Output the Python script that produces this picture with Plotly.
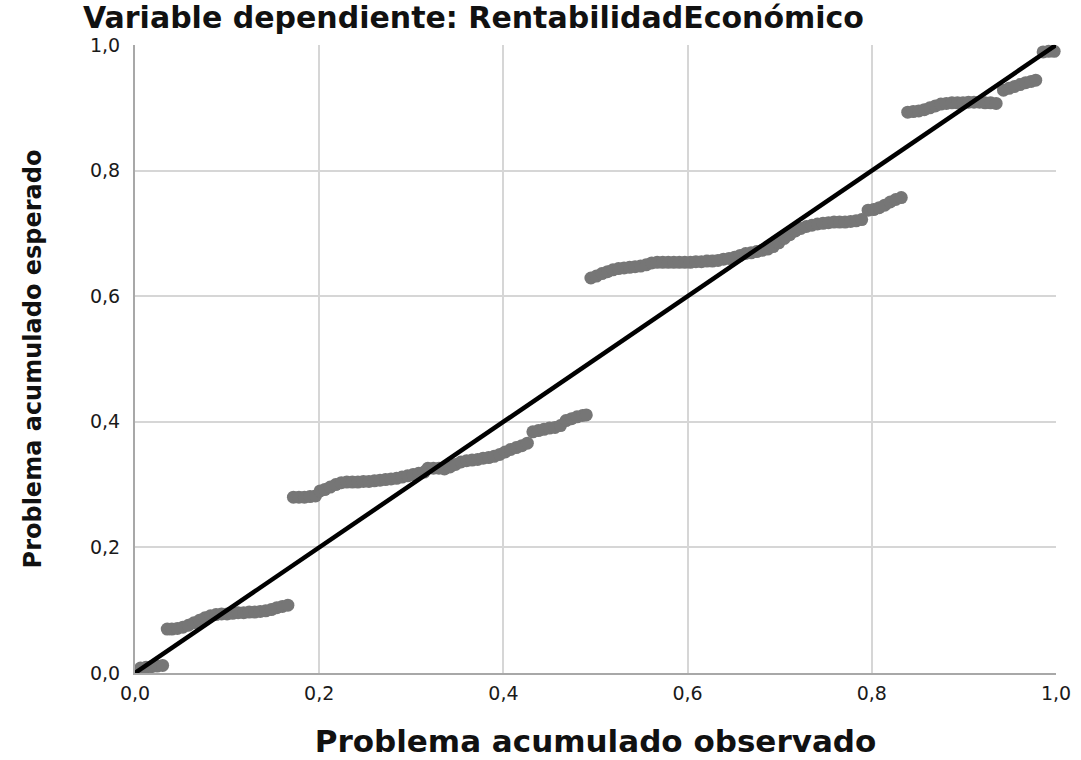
import plotly.graph_objects as go

# Observed vs expected cumulative probabilities (P-P plot of regression residuals),
# listed cluster by cluster
prob_observed = (
    [0.006, 0.012, 0.018, 0.024, 0.030]
    + [0.035, 0.040, 0.046, 0.052, 0.058, 0.064, 0.070, 0.076, 0.082, 0.088, 0.094, 0.100,
       0.106, 0.112, 0.118, 0.124, 0.130, 0.136, 0.142, 0.148, 0.154, 0.160, 0.166]
    + [0.172, 0.178, 0.184, 0.190, 0.196, 0.201, 0.206, 0.212, 0.218, 0.224, 0.230, 0.236,
       0.242, 0.248, 0.254, 0.260, 0.266, 0.272, 0.278, 0.284, 0.290, 0.296, 0.302, 0.308,
       0.314, 0.318, 0.324, 0.330, 0.336, 0.342, 0.348, 0.354, 0.360, 0.366, 0.372, 0.378,
       0.384, 0.390, 0.396, 0.402, 0.408, 0.414, 0.420, 0.426]
    + [0.432, 0.438, 0.444, 0.450, 0.456, 0.462, 0.468, 0.474, 0.480, 0.486, 0.490]
    + [0.495, 0.501, 0.507, 0.513, 0.519, 0.525, 0.531, 0.537, 0.543, 0.549, 0.555, 0.561,
       0.567, 0.573, 0.579, 0.585, 0.591, 0.597, 0.603, 0.609, 0.615, 0.621, 0.627, 0.633,
       0.639, 0.645, 0.651, 0.657, 0.663, 0.669, 0.675, 0.681, 0.687, 0.693, 0.699, 0.705,
       0.711, 0.717, 0.723, 0.729, 0.735, 0.741, 0.747, 0.753, 0.759, 0.765, 0.771, 0.777,
       0.783, 0.789]
    + [0.796, 0.802, 0.808, 0.814, 0.820, 0.826, 0.832]
    + [0.839, 0.845, 0.851, 0.857, 0.863, 0.869, 0.875, 0.881, 0.887, 0.893, 0.899, 0.905,
       0.911, 0.917, 0.923, 0.929, 0.935]
    + [0.943, 0.949, 0.955, 0.961, 0.967, 0.973, 0.978]
    + [0.986, 0.992, 0.998]
)
prob_expected = (
    [0.008, 0.009, 0.010, 0.011, 0.012]
    + [0.070, 0.070, 0.071, 0.073, 0.076, 0.080, 0.084, 0.088, 0.091, 0.093, 0.094, 0.094,
       0.095, 0.096, 0.096, 0.097, 0.097, 0.098, 0.099, 0.101, 0.104, 0.106, 0.108]
    + [0.280, 0.280, 0.280, 0.281, 0.282, 0.290, 0.292, 0.296, 0.300, 0.303, 0.304, 0.304,
       0.304, 0.305, 0.305, 0.306, 0.307, 0.308, 0.309, 0.310, 0.312, 0.314, 0.316, 0.318,
       0.320, 0.326, 0.326, 0.326, 0.325, 0.328, 0.332, 0.336, 0.338, 0.339, 0.340, 0.342,
       0.343, 0.345, 0.348, 0.352, 0.356, 0.359, 0.362, 0.366]
    + [0.384, 0.386, 0.388, 0.390, 0.391, 0.394, 0.402, 0.405, 0.408, 0.410, 0.411]
    + [0.629, 0.632, 0.636, 0.639, 0.642, 0.644, 0.645, 0.646, 0.647, 0.648, 0.650, 0.653,
       0.654, 0.654, 0.654, 0.654, 0.654, 0.654, 0.654, 0.655, 0.655, 0.656, 0.656, 0.657,
       0.659, 0.660, 0.662, 0.665, 0.668, 0.669, 0.671, 0.673, 0.675, 0.679, 0.685, 0.692,
       0.698, 0.704, 0.708, 0.711, 0.713, 0.715, 0.716, 0.717, 0.718, 0.718, 0.718, 0.719,
       0.720, 0.722]
    + [0.737, 0.738, 0.741, 0.745, 0.750, 0.754, 0.757]
    + [0.893, 0.894, 0.895, 0.897, 0.900, 0.903, 0.906, 0.907, 0.908, 0.908, 0.908, 0.909,
       0.909, 0.909, 0.908, 0.908, 0.907]
    + [0.928, 0.931, 0.934, 0.937, 0.940, 0.942, 0.944]
    + [0.989, 0.990, 0.990]
)

# Reference diagonal
diag_x = [0.0, 1.0]
diag_y = [0.0, 1.0]

tick_vals = [0.0, 0.2, 0.4, 0.6, 0.8, 1.0]
tick_text = ["0,0", "0,2", "0,4", "0,6", "0,8", "1,0"]

fig = go.Figure()
fig.add_trace(go.Scatter(
    x=prob_observed, y=prob_expected, mode="markers",
    marker=dict(color="#767676", size=13, line=dict(width=0)),
    cliponaxis=False, showlegend=False,
))
fig.add_trace(go.Scatter(
    x=diag_x, y=diag_y, mode="lines",
    line=dict(color="#000000", width=4.5),
    cliponaxis=False, showlegend=False,
))

axis_common = dict(
    range=[0, 1], tickvals=tick_vals, ticktext=tick_text,
    showgrid=True, gridcolor="#d6d6d6", gridwidth=2,
    zeroline=False, showline=True, linecolor="#a8a8a8", linewidth=2,
    ticks="", automargin=False,
    tickfont=dict(family="DejaVu Sans", size=19, color="#1a1a1a"),
)

fig.update_layout(
    width=1081, height=760,
    margin=dict(l=135, r=25, t=45, b=87),
    paper_bgcolor="white", plot_bgcolor="white",
    title=dict(
        text="Variable dependiente: RentabilidadEconómico",
        x=83 / 1081, xanchor="left", xref="container",
        y=1 - 17 / 760, yanchor="middle", yref="container",
        font=dict(family="DejaVu Sans", size=30, weight="bold", color="#111111"),
    ),
    xaxis=dict(
        **axis_common,
        ticklabelstandoff=2,
        title=dict(text="Problema acumulado observado", standoff=28,
                   font=dict(family="DejaVu Sans", size=31, weight="bold", color="#111111")),
    ),
    yaxis=dict(
        **axis_common,
        ticklabelstandoff=9,
        title=dict(text="Problema acumulado esperado", standoff=42,
                   font=dict(family="DejaVu Sans", size=24, weight="bold", color="#111111")),
    ),
)

fig.write_html("out.html")
